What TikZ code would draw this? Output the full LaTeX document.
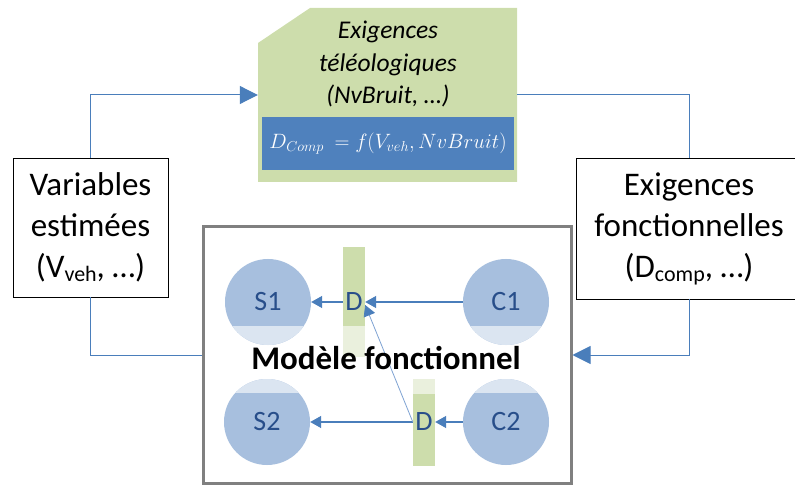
\documentclass[tikz,border=0pt]{standalone}
\usepackage{fontspec}
\setmainfont{Carlito}
\usetikzlibrary{arrows.meta}
\definecolor{cgreen}{HTML}{CDDDAC}
\definecolor{lgreen}{HTML}{EAF0DD}
\definecolor{cblue}{HTML}{4F81BD}
\definecolor{cdark}{HTML}{A7BFDE}
\definecolor{clight}{HTML}{DBE5F1}
\definecolor{ctext}{HTML}{284E8A}
\definecolor{carrow}{HTML}{4A7EBB}
\definecolor{cthin}{HTML}{7FA3D3}
\definecolor{cgray}{HTML}{808080}
\begin{document}
\begin{tikzpicture}[x=1pt,y=-1pt,
  txtbox/.style={draw=black, line width=0.8pt, fill=white, align=center, inner sep=0pt,
    font=\fontsize{33}{41}\selectfont},
  circ/.style={circle, minimum size=86pt, inner sep=0pt, fill=cdark, text=ctext,
    font=\fontsize{28}{32}\selectfont},
  bar/.style={rectangle, minimum width=22pt, inner sep=0pt, fill=cgreen, text=ctext,
    font=\fontsize{28}{32}\selectfont},
  conn/.style={draw=carrow, line width=1pt},
  bigtip/.style={-{Triangle[length=18pt,width=18pt]}},
  iarr/.style={draw=carrow, line width=1.3pt, -{Triangle[length=11pt,width=12pt]}},
  thinarr/.style={draw=cthin, line width=0.8pt, -{Triangle[length=11pt,width=12pt,fill=carrow,color=carrow]}}
]
\useasboundingbox (0,0) rectangle (795,486);
% outer boxes
\node[txtbox, minimum width=155pt, minimum height=139pt] (vars) at (90.5,227.5)
  {Variables\\estimées\\(V\raisebox{-0.25ex}{\fontsize{22}{24}\selectfont veh}, …)};
\node[txtbox, minimum width=226pt, minimum height=141pt] (func) at (689,228.5)
  {Exigences\\fonctionnelles\\(D\raisebox{-0.25ex}{\fontsize{22}{24}\selectfont comp}, …)};
% document shape
\node[minimum width=259pt, minimum height=174pt, inner sep=0pt,
  path picture={\fill[cgreen] (path picture bounding box.south west)
    -- ([yshift=-35pt]path picture bounding box.north west)
    -- ([xshift=52pt]path picture bounding box.north west)
    -- (path picture bounding box.north east)
    -- (path picture bounding box.south east) -- cycle;}] (doc) at (387.5,95) {};
\node[font=\fontsize{25.5}{32.5}\selectfont\itshape, align=center] (doctext) at (388,64)
  {Exigences\\téléologiques\\(NvBruit, …)};
\node[fill=cblue, minimum width=252pt, minimum height=53pt, inner sep=0pt, text=white,
  font=\fontsize{21}{25}\selectfont] (form) at (388,143.5)
  {$D_{Comp}\ =f(V_{veh},NvBruit)$};
% model box
\node[draw=cgray, line width=3pt, fill=white, minimum width=368pt, minimum height=256pt] (model) at (387,355) {};
% connectors
\draw[conn, bigtip] (vars.north) |- (doc.west);
\draw[conn] (func.north) |- (doc.east);
\draw[conn] (vars.south) |- (model.west);
\draw[conn, bigtip] (func.south) |- (model.east);
% circles
\node[circ, path picture={\fill[clight] ([yshift=19pt]path picture bounding box.south west) rectangle (path picture bounding box.south east);}] (S1) at (268,302) {S1};
\node[circ, path picture={\fill[clight] ([yshift=19pt]path picture bounding box.south west) rectangle (path picture bounding box.south east);}] (C1) at (506,302) {C1};
\node[circ, path picture={\fill[clight] (path picture bounding box.north west) rectangle ([yshift=-14pt]path picture bounding box.north east);}] (S2) at (267,422) {S2};
\node[circ, path picture={\fill[clight] (path picture bounding box.north west) rectangle ([yshift=-14pt]path picture bounding box.north east);}] (C2) at (506,422) {C2};
% bars
\node[bar, minimum height=110pt, path picture={\fill[lgreen] ([yshift=31pt]path picture bounding box.south west) rectangle (path picture bounding box.south east);}] (D1) at (354,302) {D};
\node[bar, minimum height=87pt, path picture={\fill[lgreen] (path picture bounding box.north west) rectangle ([yshift=-15pt]path picture bounding box.north east);}] (D2) at (424,422) {D};
% inner arrows
\draw[iarr] (C1) -- (D1);
\draw[iarr] (D1) -- (S1);
\draw[iarr] (C2) -- (D2);
\draw[iarr] (D2) -- (S2);
\draw[thinarr] (D2.west) -- ([yshift=-3pt]D1.east);
% title
\node[font=\fontsize{33}{38}\selectfont\bfseries] (mtitle) at (386,358) {Modèle fonctionnel};
\end{tikzpicture}
\end{document}
